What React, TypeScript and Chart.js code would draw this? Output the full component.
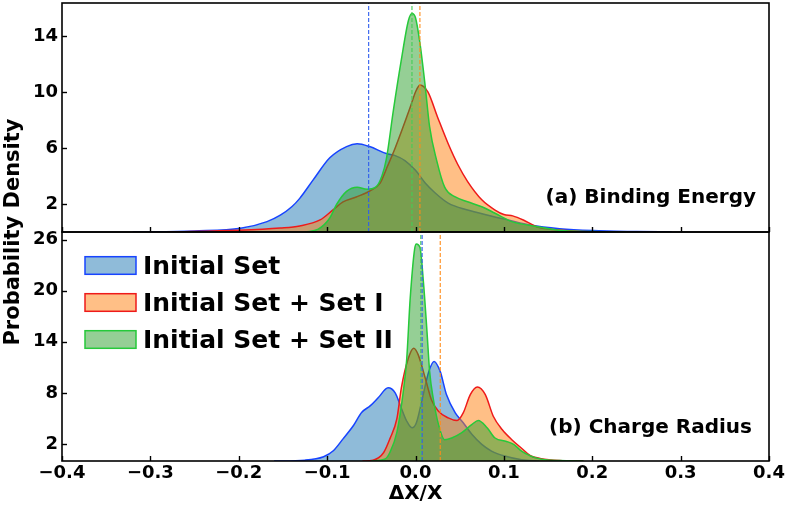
import React, { useEffect, useRef } from 'react';
import { Chart, registerables } from 'chart.js';

Chart.register(...registerables);

// ---------- data ----------
const seriesNames = ['Initial Set', 'Initial Set + Set I', 'Initial Set + Set II'];
const xTicks = [-0.4, -0.3, -0.2, -0.1, 0.0, 0.1, 0.2, 0.3, 0.4];
const topYTicks = [2, 6, 10, 14];
const botYTicks = [2, 8, 14, 20, 26];
const TOP_MAX = 16.35;
const BOT_MAX = 26.9;

// (a) Binding Energy
const beInitialX = [-0.32, -0.25, -0.198, -0.168, -0.153, -0.14, -0.131, -0.116, -0.097, -0.078, -0.066, -0.052, -0.033, -0.023, -0.012, 0.0, 0.011, 0.022, 0.037, 0.059, 0.082, 0.105, 0.13, 0.163, 0.2, 0.25, 0.29];
const beInitialY = [0, 0.08, 0.26, 0.74, 1.2, 1.8, 2.4, 3.7, 5.3, 6.1, 6.3, 6.1, 5.6, 5.45, 5.1, 4.4, 3.5, 2.8, 2.06, 1.57, 1.2, 0.86, 0.5, 0.24, 0.1, 0.03, 0];
const beSet1X = [-0.28, -0.2, -0.153, -0.131, -0.108, -0.093, -0.082, -0.067, -0.051, -0.04, -0.033, -0.023, -0.006, 0.0, 0.005, 0.014, 0.025, 0.037, 0.048, 0.059, 0.075, 0.09, 0.1, 0.11, 0.122, 0.137, 0.156, 0.19, 0.22];
const beSet1Y = [0, 0.12, 0.28, 0.43, 0.86, 1.6, 2.15, 2.5, 2.95, 3.5, 4.5, 6.0, 8.9, 10.0, 10.5, 10.0, 8.2, 6.3, 4.8, 3.6, 2.3, 1.57, 1.25, 1.15, 0.86, 0.38, 0.17, 0.03, 0];
const beSet2X = [-0.125, -0.11, -0.097, -0.089, -0.078, -0.066, -0.055, -0.045, -0.038, -0.033, -0.025, -0.016, -0.008, -0.004, 0.0, 0.005, 0.011, 0.016, 0.024, 0.033, 0.045, 0.059, 0.075, 0.09, 0.109, 0.137, 0.16, 0.2, 0.24];
const beSet2Y = [0, 0.2, 1.0, 2.0, 2.9, 3.2, 3.05, 3.2, 4.0, 5.2, 8.7, 12.3, 15.1, 15.6, 15.3, 13.5, 10.4, 7.5, 5.1, 3.2, 2.5, 2.16, 1.8, 1.34, 0.74, 0.4, 0.15, 0.03, 0];
const beMeanX = [-0.053, 0.005, -0.004];

// (b) Charge Radius
const crInitialX = [-0.16, -0.125, -0.104, -0.093, -0.082, -0.07, -0.061, -0.051, -0.042, -0.031, -0.023, -0.016, -0.01, -0.004, 0.001, 0.007, 0.015, 0.021, 0.028, 0.035, 0.045, 0.054, 0.064, 0.075, 0.086, 0.101, 0.12, 0.14];
const crInitialY = [0, 0.1, 0.5, 1.2, 2.6, 4.2, 5.7, 6.5, 7.45, 8.6, 8.0, 6.2, 4.7, 3.9, 4.5, 7.0, 10.5, 11.7, 10.5, 7.8, 5.65, 4.5, 3.1, 1.95, 1.17, 0.58, 0.15, 0];
const crSet1X = [-0.06, -0.048, -0.036, -0.029, -0.021, -0.016, -0.008, -0.002, 0.003, 0.011, 0.018, 0.026, 0.037, 0.047, 0.054, 0.062, 0.07, 0.079, 0.088, 0.098, 0.109, 0.12, 0.13, 0.141, 0.163, 0.19];
const crSet1Y = [0, 0.1, 1.0, 2.6, 5.0, 8.6, 12.1, 13.25, 12.5, 9.75, 7.2, 5.85, 5.06, 4.75, 5.65, 7.8, 8.7, 7.8, 5.26, 3.7, 2.5, 1.5, 0.62, 0.3, 0.05, 0];
const crSet2X = [-0.05, -0.035, -0.029, -0.021, -0.014, -0.01, -0.006, -0.001, 0.001, 0.005, 0.009, 0.013, 0.016, 0.02, 0.026, 0.033, 0.041, 0.052, 0.064, 0.071, 0.081, 0.09, 0.103, 0.111, 0.12, 0.13, 0.141, 0.163, 0.19];
const crSet2Y = [0, 0.2, 1.0, 3.4, 8.0, 11.9, 19.1, 24.9, 25.5, 25.1, 21.0, 15.2, 10.5, 7.4, 4.3, 2.5, 2.7, 3.3, 4.3, 4.75, 3.9, 2.7, 2.3, 1.95, 1.17, 0.6, 0.25, 0.05, 0];
const crMeanX = [0.0075, 0.028, 0.006];

// ---------- styles ----------
const lineColors = ['#1744ff', '#ee1a1a', '#26c93a'];
const fillColors = ['rgba(31,119,180,0.5)', 'rgba(255,127,14,0.5)', 'rgba(44,160,44,0.5)'];
const meanColors = ['#2f5fef', '#ff8c1a', '#44cc55'];
const FONT = "'DejaVu Sans', sans-serif";

const pts = (xs: number[], ys: number[]) => xs.map((x, i) => ({ x, y: ys[i] }));

function fmt(v: number) {
  const r = Math.round(v * 10) / 10;
  const s = Math.abs(r).toFixed(1);
  return r < 0 ? '\u2212' + s : s;
}

function buildDatasets() {
  const ds: any[] = [];
  const panels = [
    { axis: 'yTop', max: TOP_MAX, xs: [beInitialX, beSet1X, beSet2X], ys: [beInitialY, beSet1Y, beSet2Y], means: beMeanX },
    { axis: 'yBot', max: BOT_MAX, xs: [crInitialX, crSet1X, crSet2X], ys: [crInitialY, crSet1Y, crSet2Y], means: crMeanX },
  ];
  for (const p of panels) {
    for (let i = 0; i < 3; i++) {
      ds.push({
        label: seriesNames[i],
        data: pts(p.xs[i], p.ys[i]),
        xAxisID: 'x',
        yAxisID: p.axis,
        borderColor: lineColors[i],
        backgroundColor: fillColors[i],
        borderWidth: 1.5,
        fill: 'origin',
        pointRadius: 0,
        cubicInterpolationMode: 'monotone',
        order: 3 - i,
      });
    }
    for (let i = 0; i < 3; i++) {
      ds.push({
        label: seriesNames[i] + ' mean',
        data: [{ x: p.means[i], y: 0 }, { x: p.means[i], y: p.max }],
        xAxisID: 'x',
        yAxisID: p.axis,
        borderColor: meanColors[i],
        borderWidth: 1.1,
        borderDash: [4, 2],
        fill: false,
        pointRadius: 0,
        order: 0,
      });
    }
  }
  return ds;
}

const decorPlugin = {
  id: 'decor',
  afterDraw(chart: any) {
    const { ctx, chartArea: ca, scales } = chart;
    const x = scales.x;
    const panels = [scales.yTop, scales.yBot];
    const yTickSets = [topYTicks, botYTicks];
    ctx.save();
    // inward ticks
    ctx.strokeStyle = '#000';
    ctx.lineWidth = 1.4;
    panels.forEach((s: any, k: number) => {
      for (const v of xTicks) {
        const px = Math.round(x.getPixelForValue(v)) + 0.5;
        ctx.beginPath();
        ctx.moveTo(px, s.bottom);
        ctx.lineTo(px, s.bottom - 5);
        ctx.stroke();
      }
      for (const v of yTickSets[k]) {
        const py = Math.round(s.getPixelForValue(v)) + 0.5;
        ctx.beginPath();
        ctx.moveTo(ca.left, py);
        ctx.lineTo(ca.left + 5, py);
        ctx.stroke();
      }
    });
    // frames
    ctx.lineWidth = 1.6;
    panels.forEach((s: any) => {
      ctx.strokeRect(ca.left, s.top, ca.right - ca.left, s.bottom - s.top);
    });
    // panel annotations
    ctx.fillStyle = '#000';
    ctx.font = `bold 20px ${FONT}`;
    ctx.textAlign = 'right';
    ctx.textBaseline = 'alphabetic';
    ctx.fillText('(a) Binding Energy', ca.right - 13, scales.yTop.bottom - 29);
    ctx.fillText('(b) Charge Radius', ca.right - 17, scales.yBot.bottom - 28);
    // y title
    ctx.save();
    ctx.translate(14, (ca.top + ca.bottom) / 2);
    ctx.rotate(-Math.PI / 2);
    ctx.textAlign = 'center';
    ctx.textBaseline = 'middle';
    ctx.font = `bold 21px ${FONT}`;
    ctx.fillText('Probability Density', 0, 0);
    ctx.restore();
    // legend
    const lx = ca.left + 23;
    const top0 = scales.yBot.top + 24.7;
    ctx.font = `bold 25px ${FONT}`;
    ctx.textAlign = 'left';
    ctx.textBaseline = 'alphabetic';
    for (let i = 0; i < 3; i++) {
      const by = top0 + i * 37;
      ctx.fillStyle = '#fff';
      ctx.fillRect(lx, by, 51, 17.6);
      ctx.fillStyle = fillColors[i];
      ctx.fillRect(lx, by, 51, 17.6);
      ctx.strokeStyle = lineColors[i];
      ctx.lineWidth = 1.5;
      ctx.strokeRect(lx, by, 51, 17.6);
      ctx.fillStyle = '#000';
      ctx.fillText(seriesNames[i], lx + 58, by + 17.6);
    }
    ctx.restore();
  },
};

function yAxis(max: number, ticks: number[], weight: number) {
  return {
    type: 'linear',
    position: 'left',
    stack: 'panels',
    stackWeight: 1,
    weight,
    min: 0,
    max,
    afterBuildTicks: (ax: any) => {
      ax.ticks = ticks.map((v) => ({ value: v }));
    },
    afterFit: (ax: any) => {
      ax.width = 62;
      ax.paddingTop = 0;
      ax.paddingBottom = 0;
    },
    ticks: {
      color: '#000',
      font: { family: FONT, weight: 'bold', size: 18 },
      padding: 4,
      callback: (v: number) => String(v),
    },
    grid: { display: false, drawTicks: false },
    border: { display: false },
  };
}

export default function App() {
  const ref = useRef<HTMLCanvasElement>(null);
  useEffect(() => {
    const chart = new Chart(ref.current as HTMLCanvasElement, {
      type: 'line',
      data: { datasets: buildDatasets() },
      options: {
        animation: false,
        responsive: false,
        devicePixelRatio: 1,
        layout: { padding: { top: 3, right: 20, bottom: 0, left: 0 } },
        plugins: { legend: { display: false }, tooltip: { enabled: false } },
        scales: {
          x: {
            type: 'linear',
            position: 'bottom',
            min: -0.4,
            max: 0.4,
            afterBuildTicks: (ax: any) => {
              ax.ticks = xTicks.map((v) => ({ value: v }));
            },
            afterFit: (ax: any) => {
              ax.height = 46;
              ax.paddingLeft = 0;
              ax.paddingRight = 0;
            },
            ticks: {
              color: '#000',
              font: { family: FONT, weight: 'bold', size: 18 },
              padding: 2,
              maxRotation: 0,
              autoSkip: false,
              callback: (v: number) => fmt(v),
            },
            grid: { display: false, drawTicks: false },
            border: { display: false },
            title: {
              display: true,
              text: '\u0394X/X',
              color: '#000',
              font: { family: FONT, weight: 'bold', size: 20 },
              padding: { top: 0, bottom: 1 },
            },
          },
          yTop: yAxis(TOP_MAX, topYTicks, 2),
          yBot: yAxis(BOT_MAX, botYTicks, 1),
        } as any,
      },
      plugins: [decorPlugin],
    } as any);
    return () => chart.destroy();
  }, []);
  return (
    <div style={{ position: 'fixed', left: 0, top: 0, width: 789, height: 507, background: '#fff' }}>
      <canvas ref={ref} width={789} height={507} style={{ width: 789, height: 507, display: 'block' }} />
    </div>
  );
}
